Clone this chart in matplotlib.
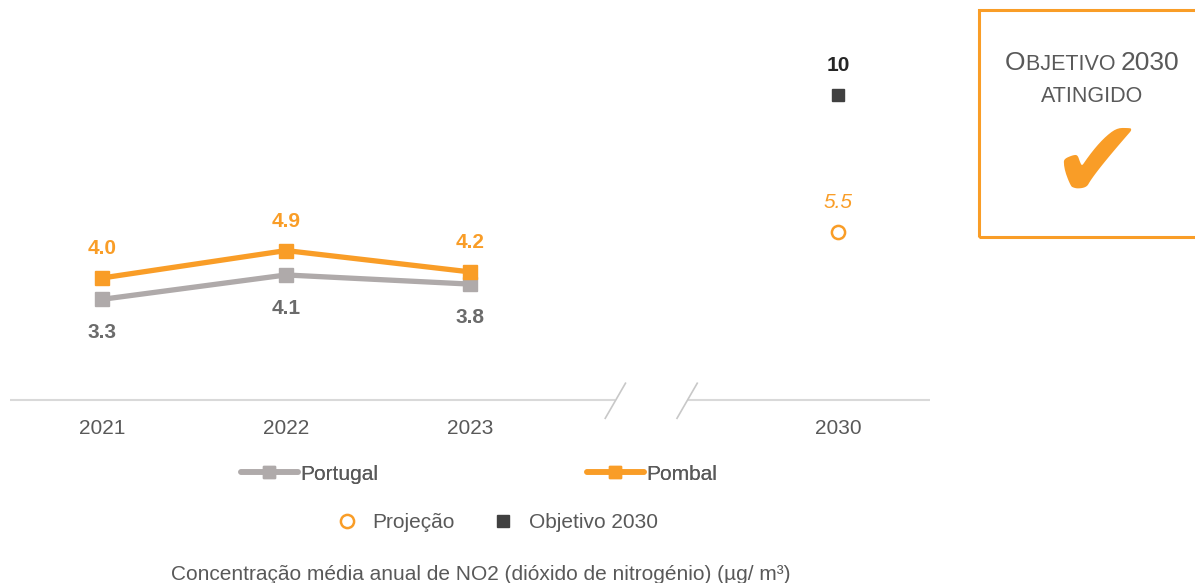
"""NO2 annual mean concentration: Portugal vs Pombal, with 2030 target."""

import matplotlib
matplotlib.use("Agg")
import matplotlib.pyplot as plt
from matplotlib.lines import Line2D
from matplotlib.patches import Rectangle

plt.rcParams["font.family"] = ["Liberation Sans", "DejaVu Sans"]

# ---- data ----
years = ["2021", "2022", "2023", "2030"]
year_pos = [0, 1, 2, 4]          # gap before 2030 (axis break)
hist_pos = [0, 1, 2]
portugal = [3.3, 4.1, 3.8]
pombal = [4.0, 4.9, 4.2]
projection_2030 = 5.5
target_2030 = 10
caption = "Concentração média anual de NO2 (dióxido de nitrogénio) (µg/ m³)"

ORANGE = "#F99D27"
GREY = "#AFAAAA"
DARK = "#404040"
TEXT = "#595959"
LABEL_GREY = "#6B6B6B"
FS = 15

W, H = 1195, 583
fig = plt.figure(figsize=(W / 100, H / 100), dpi=100)
ax = fig.add_axes([10 / W, 183 / H, 920 / W, 366 / H])
ax.set_xlim(-0.5, 4.5)
ax.set_ylim(0, 12)

ax.plot(hist_pos, portugal, color=GREY, lw=3.8, marker="s", ms=9.5,
        solid_capstyle="round", zorder=3)
ax.plot(hist_pos, pombal, color=ORANGE, lw=3.8, marker="s", ms=9.5,
        solid_capstyle="round", zorder=4)
ax.plot([4], [projection_2030], ls="none", marker="o", ms=9.5, mfc="white",
        mec=ORANGE, mew=1.8, zorder=4)
ax.plot([4], [target_2030], ls="none", marker="s", ms=8, color=DARK, zorder=4)

# value labels
for x, v in zip(hist_pos, pombal):
    ax.annotate(f"{v:.1f}", (x, v), xytext=(0, 21), textcoords="offset points",
                ha="center", va="center", color=ORANGE, fontsize=FS,
                fontweight="bold")
for x, v in zip(hist_pos, portugal):
    ax.annotate(f"{v:.1f}", (x, v), xytext=(0, -24), textcoords="offset points",
                ha="center", va="center", color=LABEL_GREY, fontsize=FS,
                fontweight="bold")
ax.annotate(f"{projection_2030:.1f}", (4, projection_2030), xytext=(0, 21.5),
            textcoords="offset points", ha="center", va="center", color=ORANGE,
            fontsize=FS, fontstyle="italic")
ax.annotate(f"{target_2030:d}", (4, target_2030), xytext=(0, 21),
            textcoords="offset points", ha="center", va="center", color="#262626",
            fontsize=FS, fontweight="bold")

# axis with break
for s in ax.spines.values():
    s.set_visible(False)
ax.set_yticks([])
ax.set_xticks(year_pos)
ax.set_xticklabels(years, color=TEXT, fontsize=FS)
ax.tick_params(axis="x", length=0, pad=14)
ax.hlines(0, -0.5, 2.79, color="#D9D9D9", lw=1.5, clip_on=False)
ax.hlines(0, 3.18, 4.5, color="#D9D9D9", lw=1.5, clip_on=False)
for bx in (2.79, 3.18):
    ax.plot([bx - 0.055, bx + 0.055], [-0.6, 0.55], color="#C8C8C8", lw=1.2,
            clip_on=False)

# legends
row1 = [Line2D([], [], color=GREY, lw=4, marker="s", ms=8,
               solid_capstyle="round"),
        Line2D([], [], color=ORANGE, lw=4, marker="s", ms=8,
               solid_capstyle="round")]
leg1 = fig.legend(row1, ["Portugal", "Pombal"], ncol=2, frameon=False,
                  loc="center", bbox_to_anchor=(479 / W, 1 - 474 / H),
                  fontsize=FS, handlelength=2.75, handletextpad=0.12,
                  columnspacing=10.0, labelcolor=TEXT)
row2 = [Line2D([], [], ls="none", marker="o", ms=9.5, mfc="white", mec=ORANGE,
               mew=1.8),
        Line2D([], [], ls="none", marker="s", ms=8, color=DARK)]
fig.legend(row2, ["Projeção", "Objetivo 2030"], ncol=2, frameon=False,
           loc="center", bbox_to_anchor=(497 / W, 1 - 523 / H),
           fontsize=FS, handlelength=1.0, handletextpad=0.75,
           columnspacing=1.8, labelcolor=TEXT)
fig.add_artist(leg1)

fig.text(481 / W, 1 - 575 / H, caption, ha="center", va="center",
         color=TEXT, fontsize=FS)

# "Objetivo 2030 atingido" box
fig.add_artist(Rectangle((979 / W, 1 - 237 / H), 230 / W, 227 / H,
                         transform=fig.transFigure, fill=False, ec=ORANGE,
                         lw=2.2, clip_on=False))
# small caps title, pieces laid out left to right
y1 = 1 - 70 / H
pieces = [("O", 19), ("BJETIVO ", 15.5), ("2030", 19)]
fig.canvas.draw()
renderer = fig.canvas.get_renderer()
x = 1005 / W
for txt, size in pieces:
    t = fig.text(x, y1, txt, ha="left", va="baseline", color=TEXT, fontsize=size)
    bb = t.get_window_extent(renderer)
    x += bb.width / W
fig.text(1092 / W, 1 - 96 / H, "ATINGIDO", ha="center", va="center",
         color=TEXT, fontsize=15.5)
fig.text(1097 / W, 1 - 167 / H, "\u2714", ha="center", va="center",
         color=ORANGE, fontsize=80, family="DejaVu Sans")

fig.savefig("out.png", dpi=100)
